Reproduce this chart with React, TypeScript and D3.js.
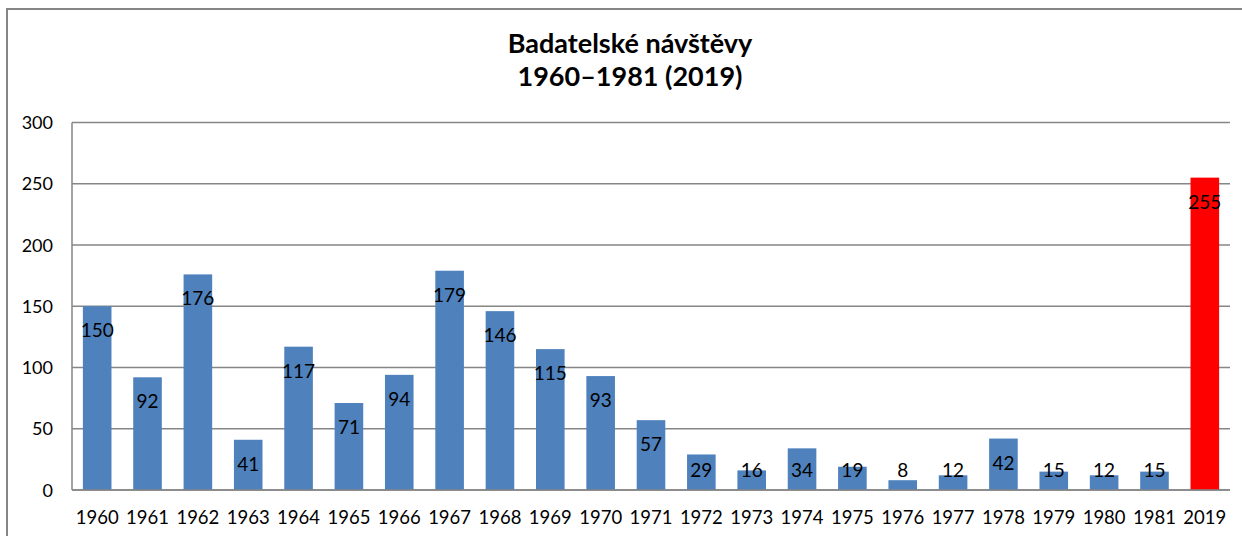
import React from 'react';
import * as d3 from 'd3';

const years = ['1960', '1961', '1962', '1963', '1964', '1965', '1966', '1967', '1968', '1969', '1970', '1971', '1972', '1973', '1974', '1975', '1976', '1977', '1978', '1979', '1980', '1981', '2019'];
const visits = [150, 92, 176, 41, 117, 71, 94, 179, 146, 115, 93, 57, 29, 16, 34, 19, 8, 12, 42, 15, 12, 15, 255];
const yTicks = [0, 50, 100, 150, 200, 250, 300];
const titleLines = ['Badatelské návštěvy', '1960–1981 (2019)'];

const W = 1242;
const H = 536;
const margin = { left: 72, right: 12, top: 122.5, bottom: 46 };
const FONT = 'Lato, "Open Sans", sans-serif';
const BLUE = '#4F81BD';
const GRID = '#868686';

export default function App() {
  const x = d3.scaleBand()
    .domain(years)
    .range([margin.left, W - margin.right])
    .paddingInner(0.432)
    .paddingOuter(0.216);

  const y = d3.scaleLinear()
    .domain([0, 300])
    .range([H - margin.bottom, margin.top]);

  const y0 = y(0);

  return (
    <svg width={W} height={H} style={{ position: 'fixed', left: 0, top: 0, background: '#fff' }}>
      {/* outer chart border */}
      <rect x={7} y={9} width={W} height={H} fill="none" stroke={GRID} strokeWidth={2} />

      {/* title */}
      {titleLines.map((t, i) => (
        <text key={t} x={630} y={53 + i * 33} textAnchor="middle" fontFamily={FONT} fontWeight="bold" fontSize={27} fill="#000">
          {t}
        </text>
      ))}

      {/* gridlines + y labels */}
      {yTicks.map(t => (
        <g key={t}>
          <line x1={margin.left} x2={W - margin.right} y1={y(t)} y2={y(t)} stroke={GRID} strokeWidth={1.5} />
          <text x={53} y={y(t) + 6.5} textAnchor="end" fontFamily={FONT} fontSize={18} fill="#000">{t}</text>
        </g>
      ))}
      <line x1={margin.left} x2={margin.left} y1={y(300)} y2={y0} stroke={GRID} strokeWidth={1.5} />

      {/* bars */}
      {years.map((yr, i) => (
        <rect key={yr} x={x(yr)} y={y(visits[i])} width={x.bandwidth()} height={y0 - y(visits[i])}
          fill={yr === '2019' ? '#FF0000' : BLUE} />
      ))}
      <line x1={margin.left} x2={W - margin.right} y1={y0} y2={y0} stroke={GRID} strokeWidth={1.5} />

      {/* value labels */}
      {years.map((yr, i) => {
        const cy = Math.min(y(visits[i]) + 24, y0 - 20.5);
        return (
          <text key={yr} x={x(yr)! + x.bandwidth() / 2} y={cy + 7} textAnchor="middle" fontFamily={FONT} fontSize={19} fill="#000">
            {visits[i]}
          </text>
        );
      })}

      {/* x labels */}
      {years.map(yr => (
        <text key={yr} x={x(yr)! + x.bandwidth() / 2} y={524} textAnchor="middle" fontFamily={FONT} fontSize={18.5} fill="#000">
          {yr}
        </text>
      ))}
    </svg>
  );
}
